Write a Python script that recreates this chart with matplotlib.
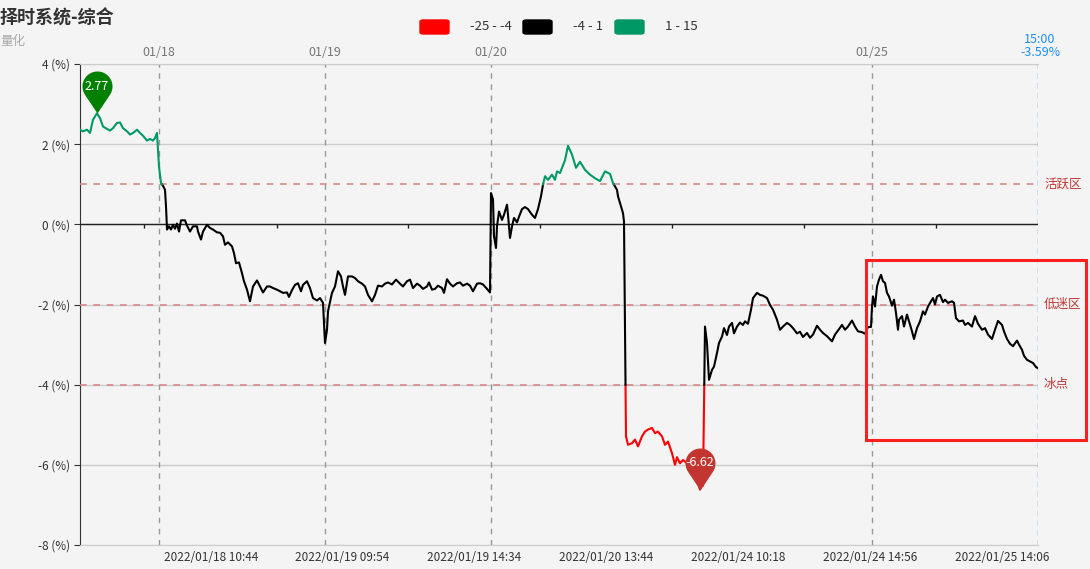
import numpy as np
import matplotlib
matplotlib.use("Agg")
import matplotlib.pyplot as plt
from matplotlib.path import Path
from matplotlib.patches import Rectangle, FancyBboxPatch

plt.rcParams['font.family'] = ['Noto Sans CJK SC', 'DejaVu Sans']

# minute index along the category axis, and value in %
t = [0, 3, 7, 10, 13, 17, 20, 23, 27, 30, 33, 37, 40, 43, 47, 50, 53, 57, 60, 63,
     67, 70, 73, 75, 77, 78, 79, 81, 83, 85, 86, 87, 89, 91, 93, 95, 97, 99, 101, 105,
     107, 110, 113, 117, 118, 121, 123, 127, 130, 133, 137, 140, 143, 145, 148, 152, 154, 156, 159, 162,
     164, 167, 170, 173, 177, 180, 183, 187, 190, 193, 197, 200, 203, 207, 209, 212, 215, 218, 221, 223,
     227, 230, 233, 237, 240, 243, 245, 247, 248, 252, 255, 258, 261, 263, 265, 268, 272, 275, 278, 282,
     285, 288, 292, 295, 298, 302, 305, 308, 312, 316, 320, 323, 327, 330, 333, 337, 340, 343, 347, 349,
     352, 355, 358, 362, 364, 367, 370, 373, 377, 380, 383, 387, 390, 393, 397, 400, 403, 407, 410, 411,
     413, 414, 416, 417, 419, 422, 424, 427, 428, 430, 432, 434, 437, 439, 442, 445, 448, 452, 455, 458,
     461, 463, 465, 468, 472, 475, 477, 480, 485, 488, 492, 496, 500, 505, 510, 515, 520, 525, 530, 533,
     537, 538, 541, 543, 544, 546, 548, 552, 555, 558, 562, 565, 568, 572, 575, 578, 582, 585, 588, 592,
     595, 597, 600, 603, 607, 610, 613, 618, 620, 622, 623, 625, 627, 629, 632, 634, 637, 639, 642, 644,
     647, 649, 652, 654, 657, 660, 663, 665, 668, 671, 673, 677, 680, 683, 687, 690, 693, 697, 700, 703,
     707, 710, 713, 717, 720, 723, 727, 730, 733, 737, 740, 743, 747, 752, 755, 758, 762, 765, 768, 772,
     775, 778, 782, 785, 788, 791, 792, 793, 795, 797, 799, 801, 803, 805, 807, 809, 812, 814, 816, 818,
     819, 822, 824, 827, 829, 832, 834, 837, 840, 843, 845, 848, 851, 853, 855, 857, 860, 863, 865, 868,
     872, 874, 876, 879, 883, 885, 888, 892, 895, 898, 902, 905, 908, 912, 915, 918, 922, 924, 927, 930,
     933, 937, 939, 942, 944, 947, 950, 953, 956, 958]
v = [2.36, 2.32, 2.36, 2.28, 2.61, 2.77, 2.65, 2.44, 2.38, 2.34, 2.40, 2.53, 2.54, 2.40, 2.32, 2.24, 2.28, 2.36, 2.28, 2.21,
     2.09, 2.13, 2.09, 2.15, 2.28, 1.86, 1.44, 1.03, 0.96, 0.86, 0.45, -0.13, -0.05, -0.13, -0.01, -0.11, 0.02, -0.18, 0.10, 0.10,
     -0.03, -0.18, -0.05, -0.05, -0.18, -0.38, -0.18, -0.01, -0.09, -0.13, -0.20, -0.21, -0.30, -0.51, -0.45, -0.55, -0.72, -0.97, -0.95, -1.22,
     -1.42, -1.63, -1.92, -1.55, -1.40, -1.55, -1.70, -1.55, -1.55, -1.59, -1.63, -1.67, -1.71, -1.70, -1.81, -1.64, -1.51, -1.47, -1.67, -1.51,
     -1.42, -1.59, -1.84, -1.90, -1.84, -1.96, -2.96, -2.63, -2.17, -1.71, -1.55, -1.17, -1.30, -1.55, -1.76, -1.30, -1.30, -1.34, -1.42, -1.48,
     -1.55, -1.76, -1.92, -1.76, -1.53, -1.55, -1.48, -1.45, -1.50, -1.38, -1.48, -1.55, -1.42, -1.38, -1.59, -1.48, -1.53, -1.61, -1.55, -1.45,
     -1.63, -1.61, -1.53, -1.59, -1.71, -1.37, -1.48, -1.55, -1.47, -1.45, -1.53, -1.48, -1.53, -1.67, -1.48, -1.47, -1.50, -1.61, -1.70, 0.78,
     0.62, -0.30, -0.59, -0.05, 0.32, 0.11, 0.24, 0.49, 0.24, -0.34, -0.05, 0.16, 0.05, 0.19, 0.38, 0.43, 0.38, 0.24, 0.16, 0.38,
     0.70, 0.99, 1.20, 1.11, 1.24, 1.11, 1.32, 1.28, 1.60, 1.96, 1.74, 1.41, 1.56, 1.36, 1.24, 1.15, 1.08, 1.32, 1.26, 1.03,
     0.86, 0.70, 0.45, 0.28, 0.07, -5.29, -5.50, -5.46, -5.37, -5.54, -5.29, -5.17, -5.12, -5.08, -5.21, -5.17, -5.29, -5.50, -5.42, -5.71,
     -6.00, -5.81, -5.96, -5.88, -5.96, -6.05, -6.20, -6.45, -6.62, -6.41, -6.52, -2.55, -2.96, -3.88, -3.63, -3.55, -3.21, -2.96, -2.80, -2.59,
     -2.76, -2.55, -2.46, -2.72, -2.55, -2.45, -2.51, -2.42, -2.48, -2.13, -1.84, -1.71, -1.76, -1.78, -1.84, -2.01, -2.13, -2.38, -2.63, -2.55,
     -2.46, -2.51, -2.59, -2.72, -2.68, -2.81, -2.71, -2.83, -2.75, -2.53, -2.63, -2.71, -2.79, -2.92, -2.75, -2.65, -2.51, -2.63, -2.55, -2.40,
     -2.55, -2.67, -2.69, -2.73, -2.56, -2.56, -2.05, -1.80, -2.05, -1.55, -1.38, -1.26, -1.42, -1.46, -1.71, -1.80, -2.03, -1.88, -2.21, -2.63,
     -2.38, -2.29, -2.55, -2.25, -2.42, -2.67, -2.86, -2.59, -2.42, -2.17, -2.25, -2.05, -1.92, -1.84, -2.00, -1.80, -1.76, -1.94, -1.88, -1.96,
     -1.92, -1.96, -2.34, -2.42, -2.40, -2.51, -2.46, -2.55, -2.29, -2.48, -2.63, -2.59, -2.75, -2.86, -2.63, -2.41, -2.51, -2.67, -2.86, -2.98,
     -3.04, -2.90, -3.00, -3.13, -3.28, -3.38, -3.42, -3.46, -3.56, -3.59]

bands = [(-25, -4), (-4, 1), (1, 15)]
band_labels = ['-25 - -4', '-4 - 1', '1 - 15']
band_colors = ['#ff0000', '#000000', '#009966']

levels = [1, -2, -4]
level_names = ['活跃区', '低迷区', '冰点']

day_pos = [79, 245, 411, 792]
day_labels = ['01/18', '01/19', '01/20', '01/25']
tick_pos = [64, 197, 328, 460, 592, 724, 856]
time_pos = [131, 262, 394, 526, 658, 790, 922]
time_labels = ['2022/01/18 10:44', '2022/01/19 09:54', '2022/01/19 14:34', '2022/01/20 13:44',
               '2022/01/24 10:18', '2022/01/24 14:56', '2022/01/25 14:06']
last_time = '15:00'

W, H = 1090, 569
bg = '#f4f4f4'
fig = plt.figure(figsize=(W / 100, H / 100), dpi=100, facecolor=bg)
ax = fig.add_axes([80 / W, 1 - 545 / H, 958 / W, 481 / H], facecolor=bg)
px = 72 / 100  # points per pixel


def split_at(xs, ys, cuts):
    ox, oy = [xs[0]], [ys[0]]
    for i in range(1, len(xs)):
        a, b = ys[i - 1], ys[i]
        cr = sorted([c for c in cuts if (a - c) * (b - c) < 0], reverse=b < a)
        for c in cr:
            ox.append(xs[i - 1] + (c - a) / (b - a) * (xs[i] - xs[i - 1]))
            oy.append(c)
        ox.append(xs[i])
        oy.append(b)
    return np.array(ox), np.array(oy)


xs, ys = split_at(t, v, [-4, 1])
for (lo, hi), col in zip(bands, band_colors):
    yb = np.where((ys >= lo) & (ys <= hi), ys, np.nan)
    ax.plot(xs, yb, color=col, lw=1.5, solid_joinstyle='round', zorder=4)

ax.set_xlim(0, t[-1])
ax.set_ylim(-8, 4)
ax.set_yticks(range(-8, 5, 2), [f'{k} (%)' for k in range(-8, 5, 2)])
ax.tick_params(axis='y', length=4, color='#333', labelsize=8.5, labelcolor='#333', pad=3)
ax.yaxis.grid(True, color='#cccccc', lw=1)
ax.set_axisbelow(True)
ax.set_xticks(time_pos, time_labels)
ax.tick_params(axis='x', length=0, labelsize=8.5, labelcolor='#333', pad=4)
for s in ['top', 'bottom']:
    ax.spines[s].set_color('#cccccc')
ax.spines['right'].set_visible(False)
ax.spines['left'].set_color('#333')

ax.axhline(0, color='#222', lw=1, zorder=3)
ax.vlines(tick_pos, -0.1, 0, color='#222', lw=1, zorder=3)

for d, lab in zip(day_pos, day_labels):
    ax.axvline(d, color='#999', ls=(0, (4, 4)), lw=1, zorder=2)
    ax.annotate(lab, (d, 1), xycoords=('data', 'axes fraction'), xytext=(0, 12 * px),
                textcoords='offset points', ha='center', va='center', fontsize=9, color='#777')

ax.axvline(t[-1], color='#1e90ff', ls=(0, (4, 3)), lw=1, zorder=2)
ax.annotate(f'{last_time}\n{v[-1]:.2f}%', (t[-1], 1), xycoords=('data', 'axes fraction'),
            xytext=(2 * px, 18 * px), textcoords='offset points', ha='center', va='center',
            fontsize=9, color='#1e90ff', linespacing=1.0)

for lv, name in zip(levels, level_names):
    ax.axhline(lv, color='#d98888', ls=(0, (4, 4)), lw=1.2, zorder=3)
    ax.annotate(name, (t[-1], lv), xytext=(6 * px, 0), textcoords='offset points',
                ha='left', va='center', fontsize=9, color='#c23531')


def pin(r=15, d=27):
    a = np.degrees(np.arccos(r / d))
    ang = np.radians(np.linspace(-90 + a, 270 - a, 60))
    verts = [(0, 0)] + [(r * np.cos(q), d + r * np.sin(q)) for q in ang] + [(0, 0)]
    return Path(verts), (d + r), d


pin_path, pin_ext, pin_c = pin()
imax, imin = int(np.argmax(v)), int(np.argmin(v))
for i, col in [(imax, '#008000'), (imin, '#c23531')]:
    ax.plot(t[i], v[i], marker=pin_path, markersize=2 * pin_ext * px, color=col,
            markeredgewidth=0, zorder=6, clip_on=False)
    ax.annotate(f'{v[i]:.2f}', (t[i], v[i]), xytext=(0, pin_c * px), textcoords='offset points',
                ha='center', va='center', color='white', fontsize=9, zorder=7)

# title, legend, highlight box (figure pixels)
fig.text(0, 1 - 18 / H, '择时系统-综合', fontsize=13, fontweight='bold', color='#333', va='center')
fig.text(0, 1 - 42 / H, '量化', fontsize=9, color='#aaa', va='center')

leg_x = [420, 523, 615]
for x0, lab, col in zip(leg_x, band_labels, band_colors):
    fig.add_artist(FancyBboxPatch((x0 / W, 1 - 34 / H), 29 / W, 14 / H,
                                  boxstyle='round,pad=0,rounding_size=0.003',
                                  transform=fig.transFigure, color=col))
    fig.text((x0 + 50) / W, 1 - 26 / H, lab, fontsize=9.5, color='#333', va='center')

fig.add_artist(Rectangle((866 / W, 1 - 440 / H), 220 / W, 180 / H, transform=fig.transFigure,
                         fill=False, edgecolor='#ff1f1f', lw=2.2))

fig.savefig('out.png', dpi=100, facecolor=bg)
